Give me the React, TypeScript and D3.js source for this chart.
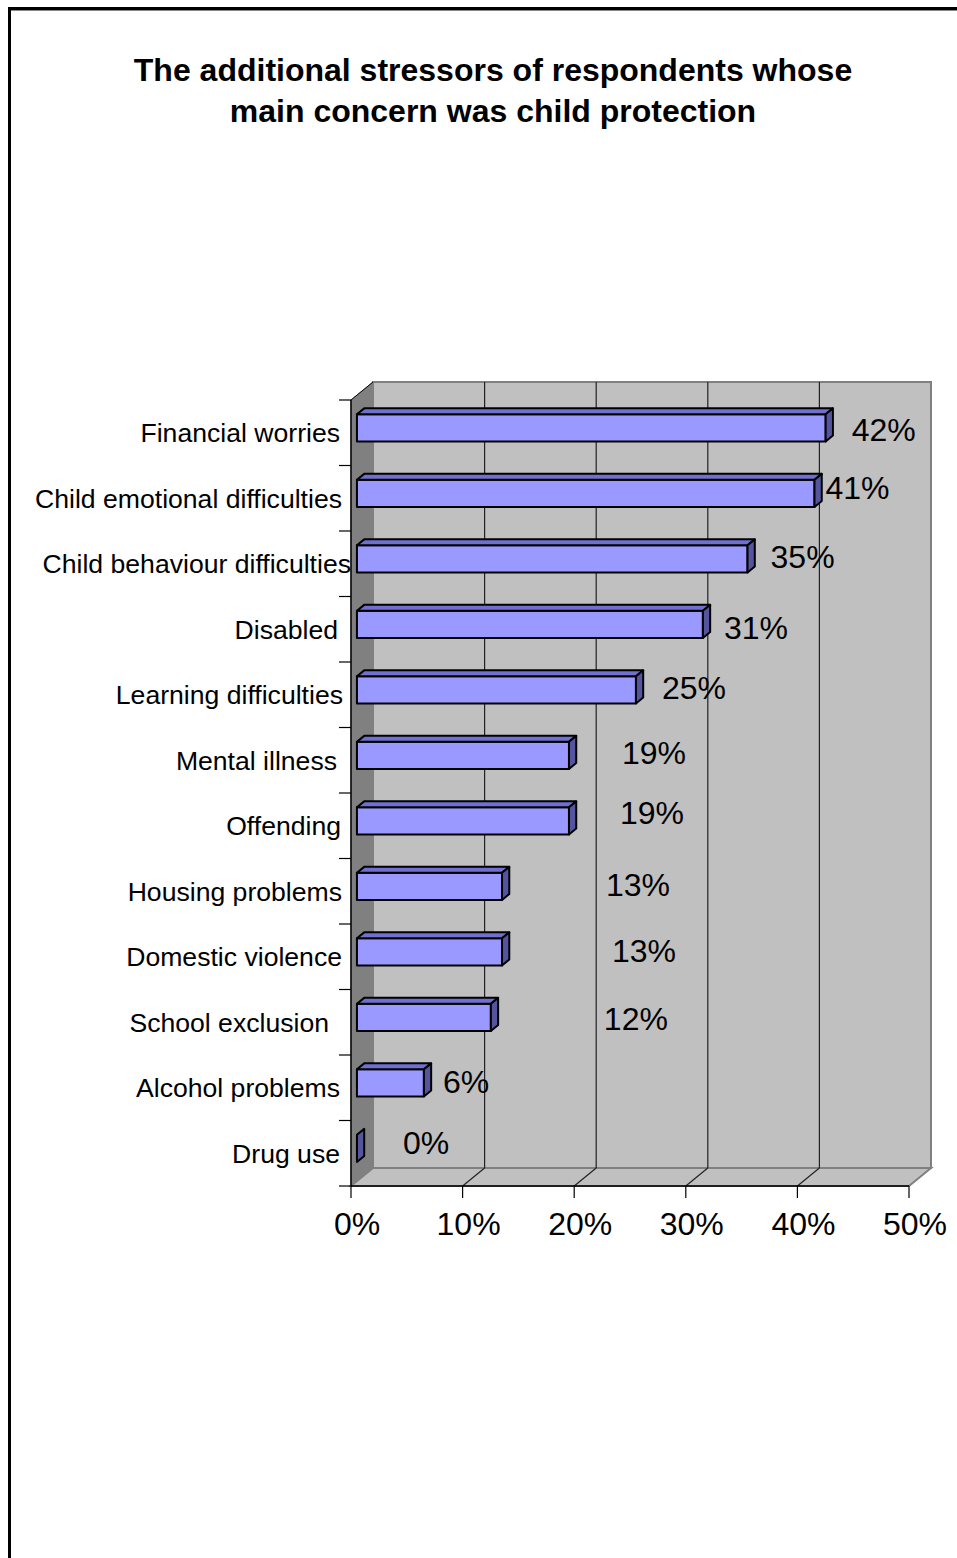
import React from "react";
import * as d3 from "d3";

// ---- data ----
const categories: string[] = [
  "Financial worries",
  "Child emotional difficulties",
  "Child behaviour difficulties",
  "Disabled",
  "Learning difficulties",
  "Mental illness",
  "Offending",
  "Housing problems",
  "Domestic violence",
  "School exclusion",
  "Alcohol problems",
  "Drug use",
];
const values: number[] = [42, 41, 35, 31, 25, 19, 19, 13, 13, 12, 6, 0];
const xTicks: number[] = [0, 10, 20, 30, 40, 50];
const titleLines: string[] = [
  "The additional stressors of respondents whose",
  "main concern was child protection",
];

// manual data-label placement in the original (offset from bar end, px)
const labelNudgeX: number[] = [26, 11, 23, 21, 26, 53, 51, 104, 110, 113, 19, 46];
const labelNudgeY: number[] = [-3, -10, -7, -1, -7, -7, -13, -6, -6, -3, -6, -10];
// manual category label nudges in the original (px)
const catNudgeX: number[] = [-2, 0, 9, -4, 1, -5, -1, 0, 0, -13, -2, -2];

const W = 957;
const H = 1558;
const FONT = "'Liberation Sans', Arial, Helvetica, sans-serif";

export default function App() {
  const x = d3.scaleLinear().domain([0, 50]).range([351, 909]);
  const y = d3
    .scaleBand<string>()
    .domain(categories)
    .range([400, 1186])
    .paddingInner(0.585)
    .paddingOuter(0.2925);
  const top = 400;
  const bottom = 1186;
  const DX = 22;
  const DY = 18;
  const P = (v: number, yy: number, z: number): [number, number] => [
    x(v) + z * DX,
    yy - z * DY,
  ];
  const pts = (a: [number, number][]) => a.map((p) => p.join(",")).join(" ");
  const zf = 0.27;
  const zb = 0.6;
  const step = y.step();

  return (
    <svg
      width={W}
      height={H}
      style={{ position: "absolute", left: 0, top: 0, background: "#fff" }}
      fontFamily={FONT}
    >
      <rect x={9.5} y={8.5} width={2000} height={2000} fill="#fff" stroke="#000" strokeWidth={3} />
      <line x1={11} x2={W} y1={10.5} y2={10.5} stroke="#888" strokeWidth={1} />

      {titleLines.map((t, i) => (
        <text
          key={t}
          x={493}
          y={81 + i * 41}
          textAnchor="middle"
          fontSize={32}
          fontWeight="bold"
          fill="#000"
        >
          {t}
        </text>
      ))}

      {/* back wall */}
      <polygon
        points={pts([P(0, top, 1), P(50, top, 1), P(50, bottom, 1), P(0, bottom, 1)])}
        fill="#C0C0C0"
        stroke="#808080"
        strokeWidth={2}
      />
      {/* floor */}
      <polygon
        points={pts([P(0, bottom, 0), P(0, bottom, 1), P(50, bottom, 1), P(50, bottom, 0)])}
        fill="#C0C0C0"
        stroke="#808080"
        strokeWidth={2}
      />
      {/* left wall */}
      <polygon
        points={pts([P(0, top, 0), P(0, top, 1), P(0, bottom, 1), P(0, bottom, 0)])}
        fill="#808080"
        stroke="#808080"
        strokeWidth={1}
      />
      <line
        x1={P(0, top, 0)[0]}
        y1={P(0, top, 0)[1]}
        x2={P(0, top, 1)[0]}
        y2={P(0, top, 1)[1]}
        stroke="#000"
        strokeWidth={1}
      />

      {/* gridlines */}
      {xTicks
        .filter((t) => t > 0 && t < 50)
        .map((t) => (
          <g key={"g" + t} stroke="#222" strokeWidth={1.2}>
            <line x1={P(t, top, 1)[0]} y1={P(t, top, 1)[1]} x2={P(t, bottom, 1)[0]} y2={P(t, bottom, 1)[1]} />
            <line x1={P(t, bottom, 1)[0]} y1={P(t, bottom, 1)[1]} x2={P(t, bottom, 0)[0]} y2={P(t, bottom, 0)[1]} />
          </g>
        ))}

      {/* axes */}
      <line x1={x(0)} x2={x(0)} y1={top} y2={bottom} stroke="#000" strokeWidth={1.5} />
      <line x1={x(0)} x2={x(50)} y1={bottom} y2={bottom} stroke="#000" strokeWidth={1.5} />
      {d3.range(categories.length + 1).map((k) => (
        <line
          key={"yt" + k}
          x1={x(0) - 12}
          x2={x(0)}
          y1={top + k * step}
          y2={top + k * step}
          stroke="#000"
          strokeWidth={1.2}
        />
      ))}
      {xTicks.map((t) => (
        <g key={"xt" + t}>
          <line x1={x(t)} x2={x(t)} y1={bottom} y2={bottom + 12} stroke="#000" strokeWidth={1.2} />
          <text x={x(t) + 6} y={1235} textAnchor="middle" fontSize={32} fill="#000">
            {t + "%"}
          </text>
        </g>
      ))}

      {/* bars */}
      {categories.map((c, i) => {
        const v = values[i];
        const yc = (y(c) as number) + y.bandwidth() / 2;
        const h = y.bandwidth() / 2;
        const y0 = yc - h;
        const y1 = yc + h;
        return (
          <g key={c} stroke="#000" strokeWidth={2} strokeLinejoin="round">
            {v > 0 && (
              <polygon
                points={pts([P(0, y0, zf), P(v, y0, zf), P(v, y1, zf), P(0, y1, zf)])}
                fill="#9999FF"
              />
            )}
            {v > 0 && (
              <polygon
                points={pts([P(0, y0, zf), P(v, y0, zf), P(v, y0, zb), P(0, y0, zb)])}
                fill="#7070D0"
              />
            )}
            <polygon
              points={pts([P(v, y0, zf), P(v, y0, zb), P(v, y1, zb), P(v, y1, zf)])}
              fill="#55559F"
            />
          </g>
        );
      })}

      {/* data labels */}
      {categories.map((c, i) => {
        const yc = (y(c) as number) + y.bandwidth() / 2;
        return (
          <text
            key={"dl" + c}
            x={P(values[i], yc, zf)[0] + labelNudgeX[i]}
            y={yc + labelNudgeY[i]}
            dy="0.35em"
            fontSize={32}
            fill="#000"
          >
            {values[i] + "%"}
          </text>
        );
      })}

      {/* category labels */}
      {categories.map((c, i) => {
        const yc = (y(c) as number) + y.bandwidth() / 2;
        return (
          <text
            key={"cl" + c}
            x={342 + catNudgeX[i]}
            y={yc}
            dy="0.35em"
            textAnchor="end"
            fontSize={26.6}
            fill="#000"
          >
            {c}
          </text>
        );
      })}
    </svg>
  );
}
